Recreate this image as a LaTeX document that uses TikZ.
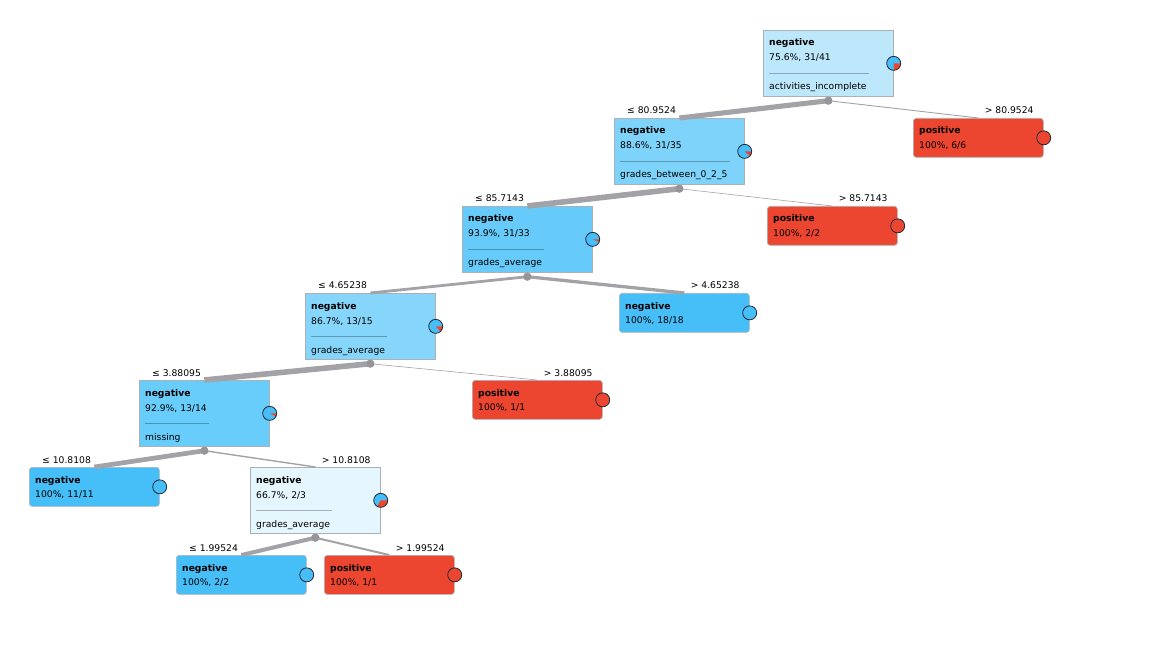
\documentclass[tikz,border=0pt]{standalone}
\usepackage{fontspec}
\setmainfont{DejaVu Sans}
\usetikzlibrary{calc}

\definecolor{leafblue}{HTML}{46BEF7}
\definecolor{posred}{HTML}{ED4630}
\definecolor{rootfill}{HTML}{BDE7FB}
\definecolor{fillA}{HTML}{7DD3FA}
\definecolor{fillB}{HTML}{66CBFA}
\definecolor{fillC}{HTML}{86D6FB}
\definecolor{fillD}{HTML}{69CDFB}
\definecolor{fillE}{HTML}{E6F6FE}
\definecolor{edgegray}{RGB}{163,163,167}
\definecolor{boxline}{RGB}{170,178,184}
\definecolor{pieline}{RGB}{35,40,55}

\newcommand\txtsize{\fontsize{9.2}{11}\selectfont}

\tikzset{
  innerbox/.style={draw=boxline, line width=0.7pt, minimum width=130pt,
    minimum height=66pt, inner sep=0pt, anchor=north west},
  leafbox/.style={innerbox, minimum height=39pt, rounded corners=3pt},
  cls/.style={anchor=base west, inner sep=0pt, font=\txtsize\bfseries},
  txt/.style={anchor=base west, inner sep=0pt, font=\txtsize},
  lblL/.style={anchor=base west, inner sep=0pt, font=\txtsize},
  lblR/.style={anchor=base east, inner sep=0pt, font=\txtsize},
  sepline/.style={draw=black, draw opacity=0.28, line width=0.7pt},
  branch/.style={draw=edgegray, line width=#1},
  splitdot/.style={circle, fill=edgegray!92!black, inner sep=0pt, minimum size=8pt},
}

% class-distribution pie at the right edge of a box; #2 = red angle in degrees
\newcommand\drawpie[2]{%
  \fill[leafblue] (#1) circle (7pt);
  \ifnum#2>0
    \fill[posred] (#1) -- ++(0:7pt) arc[start angle=0, end angle=-#2, radius=7pt] -- cycle;
  \fi
  \draw[pieline, line width=0.8pt] (#1) circle (7pt);
}

% leaf: name, top-left, fill, class, stats, red angle
\newcommand\leafnode[6]{%
  \node[leafbox, fill=#3] (#1) at (#2) {};
  \node[cls] at ([shift={(6,16)}]#1.north west) {#4};
  \node[txt] at ([shift={(6,30.5)}]#1.north west) {#5};
  \drawpie{#1.east}{#6}
}

% split node: name, top-left, fill, class, stats, attribute, red angle
\newcommand\splitnode[7]{%
  \node[innerbox, fill=#3] (#1) at (#2) {};
  \node[cls] at ([shift={(6,16)}]#1.north west) {#4};
  \node[txt] (#1s) at ([shift={(6,31)}]#1.north west) {#5};
  \node[txt] (#1a) at ([shift={(6,60)}]#1.north west) {#6};
  \draw[sepline] let \p1=(#1s.east), \p2=(#1a.east),
    \p3=([shift={(6,43)}]#1.north west) in (\p3) -- ({max(\x1,\x2)+2},\y3);
  \drawpie{#1.east}{#7}
  \node[splitdot] (#1d) at ([yshift=-4pt]#1.south) {};
}

\begin{document}
\begin{tikzpicture}[x=1pt, y=-1pt]
  \useasboundingbox (0,0) rectangle (1163,655);

  % boxes
  \splitnode{root}{763,30}{rootfill}{negative}{75.6\%, 31/41}{activities\_incomplete}{88}
  \leafnode{pa}{913,118}{posred}{positive}{100\%, 6/6}{360}
  \splitnode{na}{614,118}{fillA}{negative}{88.6\%, 31/35}{grades\_between\_0\_2\_5}{41}
  \leafnode{pb}{767,206}{posred}{positive}{100\%, 2/2}{360}
  \splitnode{nb}{462,206}{fillB}{negative}{93.9\%, 31/33}{grades\_average}{22}
  \leafnode{la}{619,293}{leafblue}{negative}{100\%, 18/18}{0}
  \splitnode{nc}{305,293}{fillC}{negative}{86.7\%, 13/15}{grades\_average}{48}
  \leafnode{pc}{472,380}{posred}{positive}{100\%, 1/1}{360}
  \splitnode{nd}{139,380}{fillD}{negative}{92.9\%, 13/14}{missing}{26}
  \leafnode{lb}{29,467}{leafblue}{negative}{100\%, 11/11}{0}
  \splitnode{ne}{250,467}{fillE}{negative}{66.7\%, 2/3}{grades\_average}{120}
  \leafnode{lc}{176,555}{leafblue}{negative}{100\%, 2/2}{0}
  \leafnode{pd}{324,555}{posred}{positive}{100\%, 1/1}{360}

  % branches, width by share of the parent's instances
  \draw[branch=5.1pt] (rootd.center) -- (na.north);
  \draw[branch=0.9pt] (rootd.center) -- (pa.north);
  \draw[branch=5.6pt] (nad.center) -- (nb.north);
  \draw[branch=0.6pt] (nad.center) -- (pb.north);
  \draw[branch=2.8pt] (nbd.center) -- (nc.north);
  \draw[branch=3.3pt] (nbd.center) -- (la.north);
  \draw[branch=5.6pt] (ncd.center) -- (nd.north);
  \draw[branch=0.6pt] (ncd.center) -- (pc.north);
  \draw[branch=4.7pt] (ndd.center) -- (lb.north);
  \draw[branch=1.4pt] (ndd.center) -- (ne.north);
  \draw[branch=4.0pt] (ned.center) -- (lc.north);
  \draw[branch=2.0pt] (ned.center) -- (pd.north);

  % split points on top of the branches
  \foreach \s in {root,na,nb,nc,nd,ne}
    \node[splitdot] at (\s d) {};

  % branch conditions
  \node[lblL] at ([shift={(13,-4)}]na.north west) {≤ 80.9524};
  \node[lblR] at ([shift={(-10,-4)}]pa.north east) {> 80.9524};
  \node[lblL] at ([shift={(13,-4)}]nb.north west) {≤ 85.7143};
  \node[lblR] at ([shift={(-10,-4)}]pb.north east) {> 85.7143};
  \node[lblL] at ([shift={(13,-4)}]nc.north west) {≤ 4.65238};
  \node[lblR] at ([shift={(-10,-4)}]la.north east) {> 4.65238};
  \node[lblL] at ([shift={(13,-4)}]nd.north west) {≤ 3.88095};
  \node[lblR] at ([shift={(-10,-4)}]pc.north east) {> 3.88095};
  \node[lblL] at ([shift={(13,-4)}]lb.north west) {≤ 10.8108};
  \node[lblR] at ([shift={(-10,-4)}]ne.north east) {> 10.8108};
  \node[lblL] at ([shift={(13,-4)}]lc.north west) {≤ 1.99524};
  \node[lblR] at ([shift={(-10,-4)}]pd.north east) {> 1.99524};
\end{tikzpicture}
\end{document}
